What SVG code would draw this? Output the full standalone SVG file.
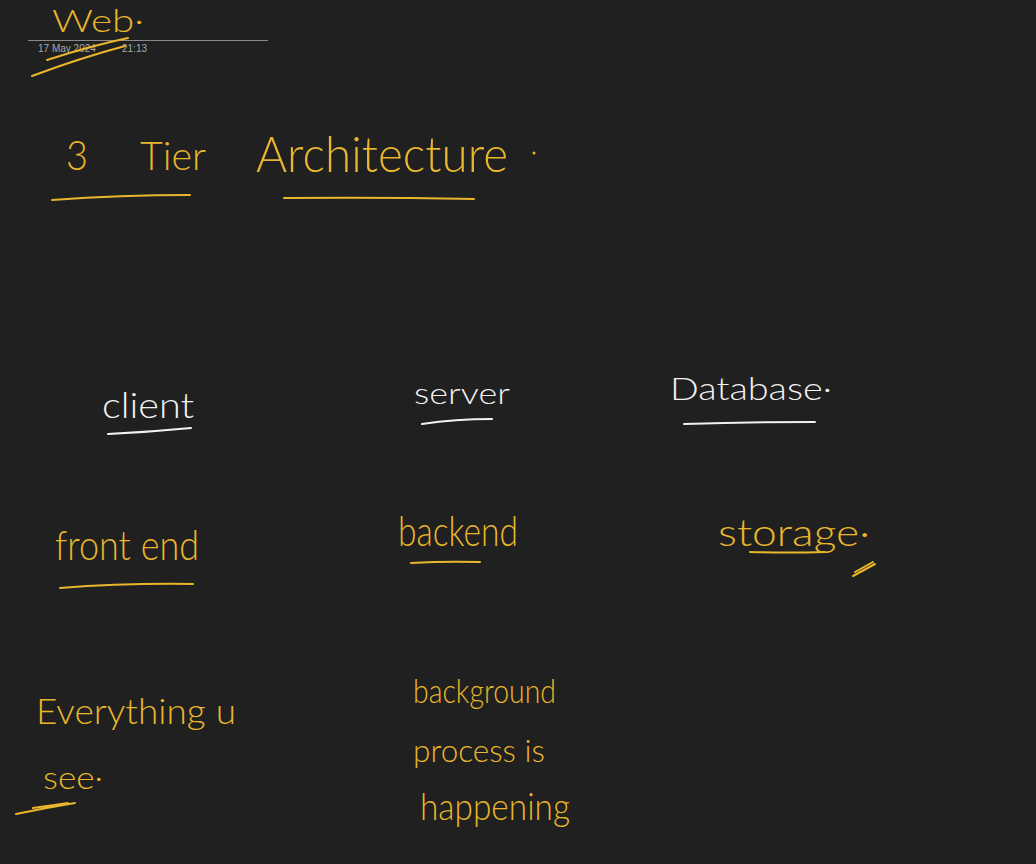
<svg xmlns="http://www.w3.org/2000/svg" width="1036" height="864" viewBox="0 0 1036 864">
<style>
.g{fill:#e9b62c;font-family:"Lato","Liberation Sans","DejaVu Sans",sans-serif;font-weight:300}
.w{fill:#f2f2f2;font-family:"Lato","Liberation Sans","DejaVu Sans",sans-serif;font-weight:300}
.meta{fill:#a8a8a8;font-family:"Liberation Sans","DejaVu Sans",sans-serif;font-size:10px}
.ug{stroke:#e9b62c;stroke-width:2;fill:none;stroke-linecap:round}
.uw{stroke:#f2f2f2;stroke-width:2;fill:none;stroke-linecap:round}
</style>
<rect x="0" y="0" width="1036" height="864" fill="#202020"/>
<g id="header">
<text class="g" x="52" y="32" font-size="32" textLength="92" lengthAdjust="spacingAndGlyphs">Web·</text>
<line x1="28" y1="40.5" x2="268" y2="40.5" stroke="#8a8a8a" stroke-width="1"/>
<text class="meta" x="38" y="52">17 May 2024</text>
<text class="meta" x="122" y="52">21:13</text>
<path class="ug" d="M47 60 Q90 46 128 38"/>
<path class="ug" d="M32 76 Q80 58 125 46"/>
</g>
<g id="title">
<text class="g" x="66" y="170" font-size="42" textLength="22" lengthAdjust="spacingAndGlyphs">3</text>
<text class="g" x="140" y="170" font-size="40" textLength="66" lengthAdjust="spacingAndGlyphs">Tier</text>
<text class="g" x="256" y="172" font-size="50" textLength="252" lengthAdjust="spacingAndGlyphs">Architecture</text>
<circle cx="534" cy="153" r="1.5" fill="#e9b62c"/>
<path class="ug" d="M52 200 Q120 195 190 195"/>
<path class="ug" d="M284 198 Q380 197 474 199"/>
</g>
<g id="client">
<text class="w" x="102" y="418" font-size="36" textLength="92" lengthAdjust="spacingAndGlyphs">client</text>
<path class="uw" d="M108 434 Q150 432 191 428"/>
</g>
<g id="server">
<text class="w" x="414" y="404" font-size="30" textLength="96" lengthAdjust="spacingAndGlyphs">server</text>
<path class="uw" d="M422 424 Q455 419 492 419"/>
</g>
<g id="database">
<text class="w" x="670" y="400" font-size="32" textLength="162" lengthAdjust="spacingAndGlyphs">Database·</text>
<path class="uw" d="M684 424 Q750 422 815 422"/>
</g>
<g id="frontend">
<text class="g" x="55" y="560" font-size="42" textLength="144" lengthAdjust="spacingAndGlyphs">front end</text>
<path class="ug" d="M60 588 Q125 583 193 584"/>
</g>
<g id="backend">
<text class="g" x="398" y="546" font-size="42" textLength="120" lengthAdjust="spacingAndGlyphs">backend</text>
<path class="ug" d="M411 563 Q445 561 480 562"/>
</g>
<g id="storage">
<text class="g" x="718" y="546" font-size="38" textLength="152" lengthAdjust="spacingAndGlyphs">storage·</text>
<path class="ug" d="M750 552 Q788 553 825 552"/>
<path class="ug" d="M853 576 L875 564 M855 572 L873 562"/>
</g>
<g id="everything">
<text class="g" x="36" y="724" font-size="36" textLength="200" lengthAdjust="spacingAndGlyphs">Everything u</text>
<text class="g" x="43" y="789" font-size="32" textLength="60" lengthAdjust="spacingAndGlyphs">see·</text>
<path class="ug" d="M16 814 Q45 808 75 803 M33 808 Q55 805 68 803"/>
</g>
<g id="background">
<text class="g" x="413" y="703" font-size="34" textLength="143" lengthAdjust="spacingAndGlyphs">background</text>
<text class="g" x="413" y="762" font-size="32" textLength="132" lengthAdjust="spacingAndGlyphs">process is</text>
<text class="g" x="420" y="820" font-size="38" textLength="150" lengthAdjust="spacingAndGlyphs">happening</text>
</g>
</svg>
